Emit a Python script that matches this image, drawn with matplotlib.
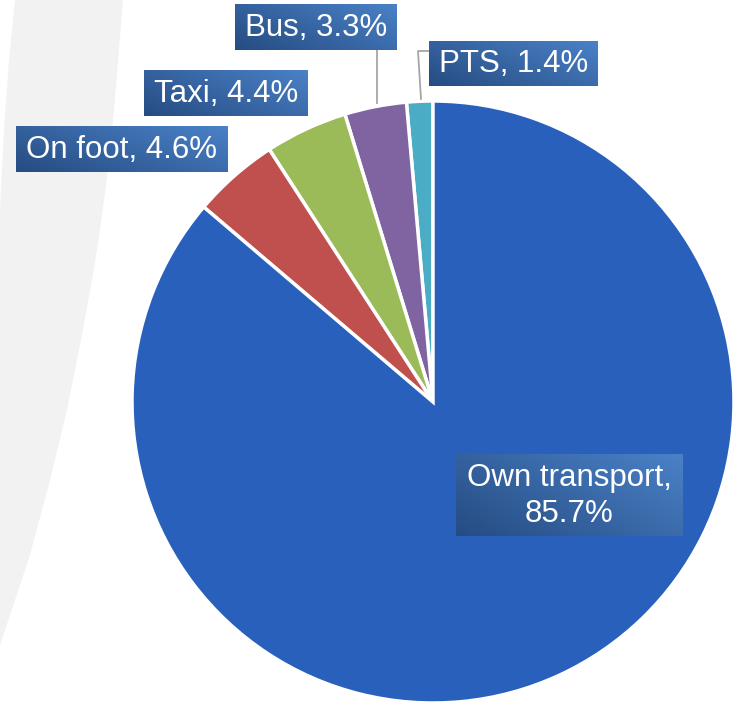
import numpy as np
import matplotlib
matplotlib.use("Agg")
import matplotlib.pyplot as plt
from matplotlib.patches import Polygon
from matplotlib.colors import to_rgb

# ---- data ----
categories = ["PTS", "Bus", "Taxi", "On foot", "Own transport"]
values = [1.4, 3.3, 4.4, 4.6, 85.7]
colors = ["#4BACC6", "#8064A2", "#9BBB59", "#C0504D", "#2860BC"]

W, H = 733, 705
fig = plt.figure(figsize=(W / 100, H / 100), dpi=100)
ax = fig.add_axes([0, 0, 1, 1])
ax.set_xlim(0, W)
ax.set_ylim(0, H)
ax.axis("off")

def Y(y):  # pixel-from-top -> axes y
    return H - y

# background swoosh (decorative)
right_edge = [(123, 0), (119, 50), (114, 110), (108, 170), (100, 230), (92, 280),
              (81, 340), (67, 410), (50, 480), (30, 555), (0, 645)]
left_edge = [(0, 210), (4, 130), (9, 60), (15, 0)]
swoosh = [(x, Y(y)) for x, y in right_edge + left_edge]
ax.add_patch(Polygon(swoosh, closed=True, facecolor="#F2F2F2", edgecolor="none", zorder=0))

# pie
cx, cy, R = 433, Y(402), 301
ax.pie(values, colors=colors, startangle=90, counterclock=True, center=(cx, cy),
       radius=R, wedgeprops=dict(edgecolor="white", linewidth=2.5), frame=True)
ax.set_aspect("equal")
ax.axis("off")

# label boxes (pixel: x0, x1, ytop, ybottom)
boxes = {
    "PTS": (429, 598, 41, 86),
    "Bus": (235, 397, 4, 50),
    "Taxi": (144, 308, 70, 116),
    "On foot": (16, 228, 126, 172),
    "Own transport": (456, 683, 454, 536),
}
dark = np.array(to_rgb("#264C82"))
light = np.array(to_rgb("#4A81C7"))
gx, gy = np.meshgrid(np.linspace(0, 1, 120), np.linspace(0, 1, 40))
t = (gx * 0.6 + gy * 0.4)[..., None]
grad = dark * (1 - t) + light * t

for name, val in zip(categories, values):
    x0, x1, yt, yb = boxes[name]
    ax.imshow(grad, extent=(x0, x1, Y(yb), Y(yt)), origin="lower",
              interpolation="bilinear", aspect="auto", zorder=5)
    if name == "Own transport":
        txt = f"{name},\n{val}%"
    else:
        txt = f"{name}, {val}%"
    ax.text((x0 + x1) / 2, Y((yt + yb) / 2 + 1), txt, color="white",
            fontsize=22.5, family="Liberation Sans", ha="center", va="center",
            linespacing=1.22, zorder=6)

# leader lines
lc = "#A6A6A6"
ax.plot([377, 377], [Y(50), Y(103)], color=lc, lw=1.3, zorder=4)
ax.plot([429, 418, 421], [Y(51), Y(51), Y(99)], color=lc, lw=1.3, zorder=4)

ax.set_xlim(0, W)
ax.set_ylim(0, H)
fig.savefig("out.png", dpi=100, facecolor="white")
